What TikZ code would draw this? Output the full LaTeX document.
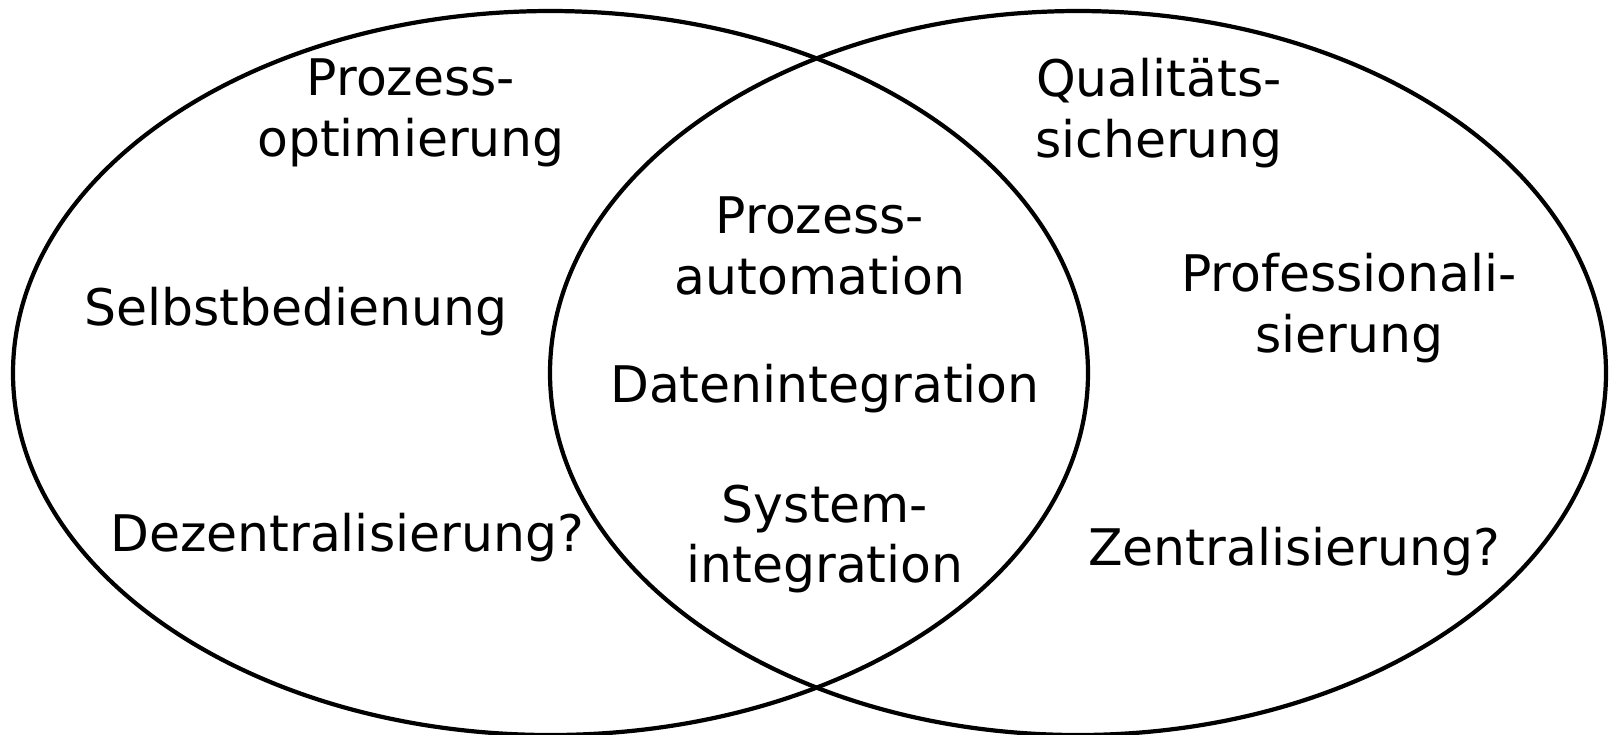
\documentclass[tikz,border=0pt]{standalone}
\usepackage{fontspec}
\setmainfont{DejaVu Sans}
\begin{document}
\begin{tikzpicture}[x=0.1mm,y=-0.1mm,
  venn/.style={draw=black,line width=1.2pt},
  lbl/.style={align=center,inner sep=0pt,font=\fontsize{14.35pt}{17.2pt}\selectfont}]
\useasboundingbox (0,0) rectangle (1609,734);
\draw[venn] (550.5,373) ellipse [x radius=537.5,y radius=362];
\draw[venn] (1078,373) ellipse [x radius=528,y radius=362];
\node[lbl] (po) at (411,113) {Prozess-\\optimierung};
\node[lbl] (sb) at (296,312) {Selbstbedienung};
\node[lbl] (dz) at (347,538) {Dezentralisierung?};
\node[lbl] (pa) at (820,246) {Prozess-\\automation};
\node[lbl] (di) at (825,389) {Datenintegration};
\node[lbl] (si) at (825,539) {System-\\integration};
\node[lbl] (qs) at (1159,113) {Qualitäts-\\sicherung};
\node[lbl] (pr) at (1349,308) {Professionali-\\sierung};
\node[lbl] (zt) at (1294,552) {Zentralisierung?};
\end{tikzpicture}
\end{document}
